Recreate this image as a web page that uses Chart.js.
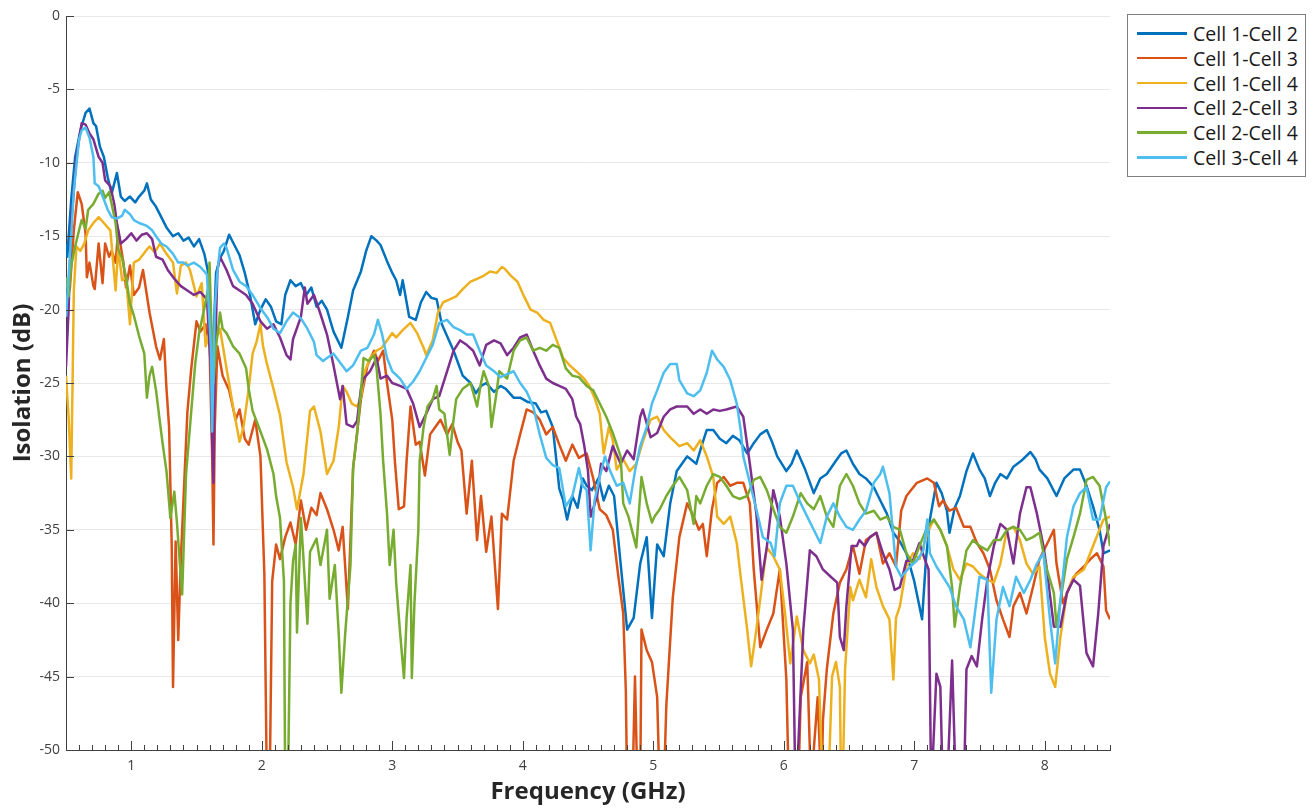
<!DOCTYPE html>
<html>
<head>
<meta charset="utf-8">
<title>Isolation vs Frequency</title>
<script src="https://cdn.jsdelivr.net/npm/chart.js@4.4.1/dist/chart.umd.min.js"></script>
<style>
  html, body { margin: 0; padding: 0; background: #fff; }
  #wrap { position: relative; width: 1313px; height: 808px; }
  #legend {
    position: absolute; left: 1127px; top: 14px; width: 179px; height: 163px;
    box-sizing: border-box; border: 1px solid #7f7f7f; background: #fff;
    padding-top: 6px; font-family: "Open Sans", sans-serif; font-size: 19.5px; color: #1a1a1a;
  }
  #legend ul { list-style: none; margin: 0; padding: 0; }
  #legend li { display: flex; align-items: center; height: 24.8px; white-space: nowrap; }
  #legend .swatch { display: block; width: 50px; height: 2.5px; margin-left: 9px; margin-right: 6px; }
</style>
</head>
<body>
<div id="wrap">
  <canvas id="isolation-chart" width="1313" height="808"></canvas>
  <div id="legend"><ul></ul></div>
</div>
<script>
// Series: [frequency GHz, isolation dB]
// (values below -50 mean the trace runs off the bottom of the axes)
const seriesNames = ['Cell 1-Cell 2', 'Cell 1-Cell 3', 'Cell 1-Cell 4', 'Cell 2-Cell 3', 'Cell 2-Cell 4', 'Cell 3-Cell 4'];
const seriesColors = ['#0072BD', '#D95319', '#EDB120', '#7E2F8E', '#77AC30', '#4DBEEE'];
const yTicks = [0, -5, -10, -15, -20, -25, -30, -35, -40, -45, -50];
const xTicks = [1, 2, 3, 4, 5, 6, 7, 8];

const cell12 = [[0.50,-15.5],[0.51,-16.4],[0.54,-12.5],[0.57,-9.6],[0.61,-7.8],[0.65,-6.6],[0.68,-6.3],[0.71,-7.3],[0.73,-7.5],[0.76,-8.9],[0.79,-9.6],[0.82,-11],[0.85,-12.1],[0.89,-10.7],[0.92,-12.3],[0.95,-12.6],[0.99,-12.3],[1.03,-12.7],[1.06,-12.3],[1.10,-11.9],[1.12,-11.4],[1.15,-12.5],[1.19,-13],[1.23,-13.7],[1.27,-14.4],[1.32,-15],[1.36,-14.8],[1.40,-15.3],[1.44,-15.1],[1.48,-15.7],[1.52,-15.2],[1.56,-16.2],[1.59,-17.5],[1.61,-22],[1.62,-28],[1.63,-22],[1.65,-17.5],[1.68,-16.5],[1.71,-16],[1.75,-14.9],[1.79,-15.6],[1.83,-16.3],[1.87,-17.5],[1.91,-19],[1.95,-21],[1.99,-20],[2.03,-19.3],[2.07,-19.8],[2.11,-20.8],[2.15,-21],[2.18,-19],[2.22,-18],[2.26,-18.4],[2.30,-18.2],[2.34,-19],[2.38,-18.5],[2.42,-19.8],[2.46,-19.4],[2.50,-20],[2.55,-21.5],[2.61,-22.6],[2.66,-20.5],[2.70,-18.7],[2.76,-17.4],[2.80,-16],[2.84,-15],[2.88,-15.3],[2.91,-15.6],[2.96,-16.7],[3.00,-17.5],[3.03,-18],[3.06,-19],[3.08,-18],[3.13,-20.5],[3.18,-20.7],[3.22,-19.5],[3.26,-18.8],[3.30,-19.2],[3.34,-19.3],[3.38,-21],[3.43,-22],[3.47,-22.8],[3.54,-24.5],[3.60,-25],[3.64,-25.7],[3.68,-25.2],[3.72,-25],[3.78,-25.6],[3.83,-25.2],[3.87,-25.4],[3.93,-26],[3.98,-26],[4.04,-26.3],[4.10,-26.4],[4.14,-27],[4.18,-26.9],[4.23,-28],[4.26,-30.5],[4.28,-32.2],[4.31,-33],[4.34,-34.3],[4.38,-32.7],[4.42,-33.5],[4.46,-31.5],[4.49,-32],[4.53,-32.3],[4.58,-31.5],[4.62,-33],[4.66,-32],[4.70,-32.7],[4.75,-37.3],[4.80,-41.8],[4.85,-41],[4.90,-37.3],[4.95,-35.5],[4.99,-41],[5.03,-36],[5.08,-36.8],[5.13,-33.2],[5.18,-31],[5.22,-30.5],[5.26,-30],[5.33,-30.5],[5.37,-29.3],[5.41,-28.2],[5.46,-28.2],[5.51,-28.8],[5.56,-29.1],[5.61,-28.6],[5.66,-28.9],[5.72,-29.8],[5.77,-29.1],[5.82,-28.5],[5.87,-28.2],[5.91,-29],[5.95,-30],[6.02,-31],[6.06,-30.5],[6.10,-29.6],[6.16,-30.8],[6.23,-32.5],[6.28,-31.5],[6.33,-31.2],[6.40,-30.3],[6.44,-29.8],[6.48,-29.6],[6.53,-30.5],[6.58,-31.2],[6.63,-31.5],[6.69,-32.1],[6.74,-33],[6.79,-33.9],[6.84,-35.2],[6.89,-35.8],[6.94,-36.6],[7.00,-38.5],[7.06,-41.1],[7.09,-37],[7.12,-34.3],[7.17,-31.8],[7.21,-32.5],[7.25,-33.7],[7.27,-35.2],[7.31,-33.5],[7.35,-32.7],[7.40,-31],[7.45,-29.8],[7.50,-30.9],[7.54,-31.5],[7.58,-32.7],[7.62,-31.8],[7.66,-31.2],[7.71,-31.5],[7.76,-30.7],[7.82,-30.3],[7.89,-29.7],[7.93,-30.2],[7.96,-30.9],[8.02,-31.5],[8.09,-32.7],[8.15,-31.5],[8.22,-30.9],[8.27,-30.9],[8.32,-32],[8.37,-33.4],[8.42,-35],[8.45,-36.6],[8.50,-36.4]];

const cell13 = [[0.50,-19.5],[0.53,-18.5],[0.56,-14.6],[0.59,-12],[0.62,-12.8],[0.65,-14.8],[0.66,-17.8],[0.68,-16.8],[0.71,-18.4],[0.72,-18.6],[0.75,-15.5],[0.78,-18.2],[0.80,-15.5],[0.83,-16.4],[0.85,-16],[0.88,-16.8],[0.90,-14.6],[0.94,-16.8],[0.96,-18.5],[0.99,-17],[1.02,-19],[1.06,-18.5],[1.09,-17.3],[1.14,-20.2],[1.19,-22.5],[1.22,-23.4],[1.25,-22],[1.27,-25.4],[1.29,-28],[1.31,-36],[1.32,-45.7],[1.34,-35.8],[1.36,-42.5],[1.38,-37],[1.40,-33],[1.43,-27],[1.46,-24],[1.50,-20.8],[1.53,-21.5],[1.57,-21],[1.60,-22.5],[1.62,-30],[1.63,-36],[1.64,-28],[1.66,-22.5],[1.70,-24.5],[1.75,-25.5],[1.80,-27.5],[1.83,-26.8],[1.87,-28.8],[1.90,-29.2],[1.95,-27.5],[1.99,-30],[2.02,-38],[2.04,-53],[2.06,-53],[2.08,-38.5],[2.11,-36],[2.14,-37],[2.18,-35.5],[2.22,-34.5],[2.26,-36],[2.30,-33],[2.34,-35],[2.38,-33.5],[2.42,-34],[2.45,-32.5],[2.50,-33.6],[2.55,-35],[2.59,-36.4],[2.62,-34.8],[2.66,-40.4],[2.70,-30.8],[2.76,-26.1],[2.81,-23.8],[2.86,-22.8],[2.89,-23.5],[2.93,-22.8],[2.96,-25],[3.00,-27.5],[3.02,-30.3],[3.05,-33.6],[3.09,-33.4],[3.11,-30.3],[3.14,-26.6],[3.18,-29.2],[3.21,-29],[3.25,-31.3],[3.29,-28.5],[3.33,-28],[3.37,-27.5],[3.42,-28.5],[3.46,-27.8],[3.50,-29],[3.53,-29.6],[3.57,-33.9],[3.61,-30.3],[3.65,-35.7],[3.68,-32.7],[3.72,-36.5],[3.76,-34.1],[3.81,-40.4],[3.84,-33.9],[3.88,-34.3],[3.93,-30.3],[3.98,-28.5],[4.03,-26.8],[4.08,-27],[4.13,-27.5],[4.18,-28.5],[4.23,-28],[4.28,-29.2],[4.33,-30.3],[4.38,-29.2],[4.43,-30.1],[4.49,-29.8],[4.54,-31.5],[4.59,-33.6],[4.64,-34],[4.69,-35],[4.73,-38],[4.77,-40.7],[4.79,-46],[4.80,-53],[4.84,-53],[4.86,-45],[4.88,-53],[4.90,-53],[4.91,-41.8],[4.95,-43.2],[4.99,-44],[5.03,-46.4],[5.05,-53],[5.08,-53],[5.10,-47],[5.12,-44],[5.15,-39.6],[5.20,-35.5],[5.26,-33.2],[5.31,-34.1],[5.35,-35],[5.38,-34.6],[5.41,-36.8],[5.45,-33.6],[5.49,-31.8],[5.54,-31.4],[5.59,-32],[5.64,-31.8],[5.69,-31.8],[5.74,-33.2],[5.77,-37.7],[5.82,-43],[5.87,-41.8],[5.92,-40.7],[5.97,-37.7],[6.02,-45.2],[6.04,-53],[6.11,-53],[6.13,-46.4],[6.18,-44],[6.21,-53],[6.23,-50],[6.26,-46.4],[6.29,-53],[6.30,-48],[6.33,-44.5],[6.38,-40.7],[6.43,-38.6],[6.48,-37.7],[6.53,-36.1],[6.58,-38],[6.63,-35.7],[6.71,-35.2],[6.76,-37.3],[6.81,-36.6],[6.86,-37.5],[6.90,-33.7],[6.94,-32.7],[7.02,-31.8],[7.10,-31.5],[7.15,-31.8],[7.19,-33.4],[7.22,-33],[7.27,-33.7],[7.32,-33.5],[7.38,-34.8],[7.43,-34.8],[7.48,-35.9],[7.53,-36.6],[7.58,-37.7],[7.63,-39.8],[7.68,-41.1],[7.73,-42.3],[7.76,-40.2],[7.81,-39.3],[7.86,-40.7],[7.91,-38.9],[7.96,-37],[8.01,-36.1],[8.07,-35],[8.09,-37.3],[8.14,-40],[8.19,-38.9],[8.24,-38],[8.30,-37.5],[8.35,-37],[8.40,-36.6],[8.45,-37.5],[8.47,-40.5],[8.50,-41.1]];

const cell14 = [[0.50,-24.5],[0.52,-27.3],[0.54,-31.5],[0.56,-18.7],[0.58,-15.7],[0.61,-16],[0.64,-15.5],[0.67,-14.6],[0.71,-14.1],[0.75,-13.7],[0.79,-14.1],[0.84,-14.6],[0.88,-18.7],[0.90,-15.8],[0.93,-18],[0.96,-17.8],[0.99,-21],[1.02,-16.8],[1.06,-16.6],[1.12,-15.9],[1.14,-15.7],[1.18,-16.1],[1.22,-15.5],[1.27,-16.2],[1.32,-16.8],[1.35,-18.9],[1.38,-17],[1.42,-16.8],[1.45,-17.3],[1.50,-19.1],[1.54,-18.2],[1.57,-22.5],[1.60,-21.5],[1.62,-25],[1.65,-22],[1.68,-21.3],[1.73,-24],[1.78,-26.6],[1.83,-29],[1.86,-28],[1.90,-25.4],[1.93,-23],[1.96,-22.2],[1.99,-21],[2.01,-22.5],[2.04,-23.7],[2.09,-25.4],[2.14,-27.2],[2.19,-30.4],[2.24,-32.1],[2.27,-33.6],[2.32,-31.2],[2.37,-26.9],[2.40,-26.6],[2.45,-28.3],[2.50,-31.2],[2.55,-30.3],[2.59,-28],[2.62,-25.2],[2.65,-25.6],[2.69,-26.4],[2.73,-26.6],[2.76,-26],[2.79,-24.2],[2.83,-23.3],[2.88,-22.8],[2.92,-22.6],[2.96,-22.1],[3.00,-21.6],[3.03,-21.9],[3.08,-21.4],[3.14,-20.9],[3.19,-21.6],[3.24,-22.6],[3.26,-23.1],[3.31,-22.1],[3.35,-20.2],[3.39,-19.5],[3.44,-19.3],[3.49,-19.1],[3.54,-18.6],[3.60,-18.1],[3.65,-17.9],[3.70,-17.7],[3.75,-17.4],[3.80,-17.5],[3.84,-17.1],[3.86,-17.2],[3.91,-17.7],[3.96,-18.1],[4.01,-19.1],[4.06,-20],[4.11,-20.2],[4.16,-20.7],[4.21,-20.9],[4.26,-22.1],[4.31,-23.3],[4.36,-23.8],[4.41,-24.2],[4.47,-24.7],[4.51,-25.2],[4.55,-26],[4.59,-27.1],[4.62,-29.8],[4.66,-28],[4.69,-28.9],[4.72,-30.9],[4.77,-30.2],[4.82,-31],[4.87,-30.5],[4.92,-29],[4.98,-27.5],[5.03,-27.3],[5.08,-28.2],[5.13,-28.7],[5.20,-29.3],[5.26,-29.1],[5.31,-29.6],[5.36,-28.9],[5.41,-30],[5.46,-31.4],[5.49,-34.1],[5.54,-34.6],[5.59,-34.1],[5.64,-35.9],[5.67,-38.2],[5.72,-41.8],[5.75,-44.3],[5.79,-41.8],[5.87,-36.2],[5.92,-36.8],[5.97,-37.7],[6.01,-40.7],[6.05,-44.1],[6.10,-40.9],[6.15,-43.2],[6.20,-44.1],[6.23,-43.5],[6.27,-45.2],[6.30,-53],[6.34,-53],[6.37,-45],[6.40,-44],[6.43,-45.7],[6.44,-53],[6.45,-53],[6.47,-44.5],[6.51,-38.9],[6.53,-39.8],[6.58,-38.4],[6.63,-39.6],[6.67,-37],[6.71,-38.9],[6.76,-40.2],[6.81,-41.1],[6.84,-45.2],[6.86,-41],[6.89,-40.2],[6.94,-37.5],[6.99,-36.6],[7.04,-37],[7.10,-35.2],[7.15,-34.3],[7.20,-35],[7.25,-36.1],[7.30,-37.7],[7.35,-38.4],[7.40,-37.3],[7.45,-37.5],[7.50,-38],[7.56,-38.4],[7.61,-38.6],[7.66,-37.3],[7.71,-35],[7.76,-34.8],[7.81,-35.7],[7.86,-37.3],[7.91,-38],[7.96,-37.5],[8.00,-42.3],[8.04,-44.8],[8.08,-45.7],[8.12,-42.3],[8.17,-39.3],[8.22,-38.2],[8.30,-37.7],[8.37,-36.1],[8.45,-34.3],[8.50,-34.1]];

const cell23 = [[0.50,-23.9],[0.52,-20],[0.54,-14.1],[0.58,-9.6],[0.62,-7.3],[0.65,-7.4],[0.68,-8],[0.71,-8.4],[0.75,-9.6],[0.78,-10],[0.80,-11.2],[0.84,-11.6],[0.87,-12.8],[0.89,-14.1],[0.92,-15.5],[0.96,-15.2],[1.00,-14.8],[1.04,-15.3],[1.08,-14.9],[1.12,-14.8],[1.16,-15.2],[1.19,-16.4],[1.24,-16.6],[1.28,-17.3],[1.33,-17.9],[1.38,-18.4],[1.43,-18.7],[1.48,-19],[1.53,-18.8],[1.58,-19.3],[1.61,-24],[1.62,-28.9],[1.63,-31.8],[1.64,-24],[1.66,-17.3],[1.68,-16.4],[1.73,-17.3],[1.78,-18.4],[1.83,-18.7],[1.88,-19],[1.93,-19.6],[1.99,-20.8],[2.04,-21.3],[2.09,-21],[2.14,-21.9],[2.19,-23.1],[2.22,-23.4],[2.24,-22],[2.30,-20.5],[2.33,-18.5],[2.35,-19.6],[2.40,-19],[2.45,-20.3],[2.50,-21.7],[2.55,-23.8],[2.60,-26.1],[2.62,-25.2],[2.65,-27.8],[2.70,-28],[2.73,-27.6],[2.76,-25.4],[2.78,-24.7],[2.83,-24.2],[2.88,-23.3],[2.91,-24.7],[2.96,-24.5],[3.00,-25],[3.06,-25.2],[3.11,-25.4],[3.16,-26.4],[3.21,-28],[3.26,-27.1],[3.31,-26.1],[3.36,-25.9],[3.42,-24.2],[3.47,-22.8],[3.52,-22.1],[3.57,-22.4],[3.62,-22.8],[3.67,-23.8],[3.72,-22.4],[3.78,-22.1],[3.83,-22.3],[3.88,-23.1],[3.93,-22.6],[3.98,-21.9],[4.03,-21.7],[4.08,-22.8],[4.13,-23.8],[4.18,-24.7],[4.23,-25],[4.28,-25.2],[4.33,-25.4],[4.38,-26.1],[4.41,-27.3],[4.44,-27.8],[4.47,-29.2],[4.50,-31],[4.52,-34.1],[4.57,-32.7],[4.60,-30.5],[4.64,-31],[4.69,-29.3],[4.75,-30.5],[4.80,-29.6],[4.85,-30.2],[4.90,-27.3],[4.92,-26.8],[4.98,-28.7],[5.03,-28.4],[5.08,-27.3],[5.13,-26.8],[5.18,-26.6],[5.26,-26.6],[5.31,-27.1],[5.36,-26.8],[5.41,-27.1],[5.46,-26.8],[5.51,-26.9],[5.56,-26.8],[5.64,-26.6],[5.69,-27.3],[5.74,-30.5],[5.79,-33.9],[5.83,-38.4],[5.87,-36.2],[5.92,-32.3],[5.97,-34.1],[6.02,-37.3],[6.07,-41.8],[6.09,-53],[6.11,-50],[6.15,-41.8],[6.20,-36.4],[6.25,-36.8],[6.30,-37.7],[6.36,-38.2],[6.41,-38.6],[6.43,-42.3],[6.46,-43.2],[6.48,-40.2],[6.52,-36.1],[6.56,-36.1],[6.58,-35.7],[6.62,-36.1],[6.66,-35.5],[6.71,-35.2],[6.76,-36.6],[6.81,-37.7],[6.85,-39.1],[6.89,-38.9],[6.94,-37.1],[6.99,-37.1],[7.04,-35.9],[7.08,-37],[7.11,-37.7],[7.13,-53],[7.17,-44.8],[7.20,-45.7],[7.22,-53],[7.25,-53],[7.29,-43.9],[7.32,-53],[7.38,-53],[7.40,-44.5],[7.44,-43.6],[7.48,-44.3],[7.52,-41.1],[7.56,-38.4],[7.61,-36.1],[7.66,-34.6],[7.71,-35],[7.76,-37.3],[7.81,-33.9],[7.86,-32.1],[7.89,-32.1],[7.94,-33.9],[7.99,-36.1],[8.01,-37.3],[8.07,-41.6],[8.12,-41.6],[8.17,-39.3],[8.22,-38.4],[8.27,-38.8],[8.32,-43.4],[8.37,-44.3],[8.41,-40.7],[8.45,-36.1],[8.50,-34.6]];

const cell24 = [[0.50,-17.8],[0.52,-19.1],[0.54,-17],[0.57,-15.7],[0.60,-14.6],[0.62,-13.9],[0.65,-14.5],[0.67,-13.2],[0.71,-12.8],[0.75,-12.1],[0.78,-11.9],[0.80,-12.4],[0.83,-12],[0.85,-12.8],[0.88,-14.1],[0.90,-15.9],[0.93,-16.5],[0.96,-17.8],[0.99,-19.6],[1.02,-20.4],[1.06,-21.8],[1.10,-23],[1.12,-26],[1.14,-24.5],[1.16,-23.9],[1.19,-25.5],[1.22,-27.7],[1.24,-29.1],[1.27,-31],[1.30,-34.2],[1.33,-32.4],[1.35,-34.5],[1.37,-37],[1.39,-39.4],[1.42,-31.2],[1.46,-26.9],[1.49,-23.7],[1.52,-21.6],[1.56,-19.9],[1.59,-18.5],[1.60,-16.8],[1.61,-20],[1.63,-25],[1.65,-22.5],[1.68,-20.2],[1.70,-21.3],[1.73,-21.6],[1.78,-22.5],[1.83,-23],[1.88,-24],[1.90,-25.4],[1.93,-26.9],[1.99,-28.3],[2.04,-29.5],[2.09,-31.2],[2.11,-32.7],[2.14,-34.2],[2.17,-38.5],[2.18,-53],[2.20,-53],[2.22,-40],[2.24,-37.1],[2.26,-36],[2.27,-42],[2.30,-34.2],[2.32,-37],[2.35,-41.4],[2.37,-36.5],[2.42,-35.6],[2.45,-37.4],[2.50,-35],[2.52,-39.7],[2.56,-37.4],[2.59,-42.1],[2.61,-46.1],[2.64,-42],[2.68,-37.4],[2.70,-30.8],[2.73,-28.5],[2.76,-25.6],[2.78,-23.3],[2.82,-23.5],[2.86,-23.1],[2.88,-24],[2.91,-27.1],[2.93,-30.3],[2.96,-33.9],[2.98,-37.4],[3.01,-35],[3.03,-38.6],[3.06,-42],[3.09,-45.1],[3.11,-41],[3.14,-37.4],[3.15,-45.1],[3.17,-40],[3.20,-35],[3.21,-30.3],[3.24,-28],[3.27,-26.6],[3.31,-26.1],[3.34,-25.2],[3.36,-26.8],[3.40,-27.1],[3.44,-29.9],[3.47,-27.5],[3.49,-26.1],[3.54,-25.4],[3.60,-25],[3.65,-26.6],[3.68,-25],[3.70,-24.2],[3.74,-25.2],[3.76,-28],[3.80,-25.6],[3.82,-24.2],[3.88,-24.7],[3.93,-22.8],[3.98,-22.1],[4.03,-21.9],[4.08,-22.8],[4.13,-22.6],[4.18,-22.8],[4.23,-22.4],[4.28,-22.6],[4.33,-24],[4.38,-24.5],[4.43,-24.6],[4.49,-25.2],[4.54,-25.5],[4.59,-26.4],[4.64,-27.3],[4.69,-28.4],[4.75,-30],[4.77,-33.2],[4.81,-34.1],[4.85,-35.5],[4.87,-36.2],[4.91,-31.4],[4.95,-33.2],[4.99,-34.5],[5.01,-34.1],[5.05,-33.6],[5.10,-32.7],[5.15,-32],[5.20,-31.4],[5.26,-32.3],[5.31,-34.6],[5.33,-32.7],[5.36,-33.2],[5.41,-32],[5.46,-31.2],[5.51,-31.4],[5.56,-32],[5.61,-32.7],[5.66,-32.9],[5.72,-32.7],[5.77,-31.6],[5.82,-31.4],[5.87,-32.3],[5.92,-33.6],[5.97,-34.8],[6.02,-35.2],[6.07,-34.1],[6.13,-32.5],[6.18,-33.2],[6.23,-33.6],[6.28,-32.7],[6.33,-34.1],[6.38,-34.8],[6.43,-32],[6.48,-31.2],[6.53,-32],[6.58,-33.2],[6.63,-33.9],[6.69,-33.7],[6.74,-34.3],[6.79,-34.1],[6.84,-34.8],[6.89,-35],[6.94,-36.6],[6.99,-37.3],[7.04,-36.1],[7.10,-34.8],[7.15,-34.3],[7.20,-35],[7.25,-36.1],[7.29,-38.9],[7.31,-41.6],[7.35,-38.9],[7.40,-36.4],[7.45,-35.7],[7.50,-36.1],[7.56,-36.4],[7.61,-35.7],[7.66,-35.7],[7.71,-35],[7.76,-34.8],[7.81,-35],[7.86,-35.7],[7.91,-35.5],[7.96,-35.2],[8.01,-37.5],[8.07,-39.3],[8.09,-41.6],[8.13,-39.3],[8.17,-37],[8.22,-35.5],[8.27,-33.9],[8.32,-31.6],[8.37,-31.4],[8.42,-32],[8.47,-34.3],[8.50,-36.1]];

const cell34 = [[0.50,-20.5],[0.53,-16.4],[0.56,-11.9],[0.60,-8.4],[0.62,-7.8],[0.65,-7.6],[0.68,-8.3],[0.71,-9.6],[0.72,-11.4],[0.75,-11.6],[0.79,-12.5],[0.82,-13.2],[0.85,-13.7],[0.89,-13.8],[0.93,-13.6],[0.95,-13.2],[0.99,-13.5],[1.02,-13.9],[1.06,-14.1],[1.12,-14.3],[1.16,-14.6],[1.19,-15],[1.23,-15.5],[1.27,-15.7],[1.32,-16.2],[1.36,-16.8],[1.40,-16.8],[1.43,-17],[1.48,-16.8],[1.53,-17.1],[1.58,-17.6],[1.61,-22.5],[1.62,-28.3],[1.64,-20],[1.66,-17.5],[1.68,-15.8],[1.71,-15.5],[1.73,-15.8],[1.78,-17.3],[1.83,-18.1],[1.88,-18.4],[1.93,-19],[1.99,-19.9],[2.04,-20.5],[2.09,-21.3],[2.14,-21.6],[2.19,-20.8],[2.24,-20.2],[2.30,-20.6],[2.35,-21.3],[2.40,-22.2],[2.42,-23.1],[2.47,-23.5],[2.50,-23.3],[2.55,-23],[2.60,-23.6],[2.65,-24.2],[2.70,-23.8],[2.76,-22.8],[2.81,-22.6],[2.86,-21.7],[2.89,-20.7],[2.92,-21.6],[2.96,-23.3],[3.00,-24.2],[3.06,-24.7],[3.11,-25.4],[3.16,-24.9],[3.21,-24.2],[3.26,-23.3],[3.31,-22.4],[3.36,-20.9],[3.42,-20.7],[3.47,-21.2],[3.52,-21.4],[3.57,-21.7],[3.62,-21.7],[3.67,-22.8],[3.72,-23.8],[3.78,-24.2],[3.83,-24.6],[3.88,-24.4],[3.93,-24.2],[3.98,-25],[4.03,-25.6],[4.08,-26.6],[4.13,-28.5],[4.18,-30.1],[4.23,-30.6],[4.28,-30.8],[4.33,-33.4],[4.38,-32.7],[4.43,-30.8],[4.46,-32],[4.49,-32.3],[4.52,-36.4],[4.55,-33],[4.59,-31.4],[4.63,-30],[4.67,-31],[4.72,-32],[4.77,-31.8],[4.82,-33.2],[4.86,-31],[4.90,-29.3],[4.95,-28],[4.99,-26.4],[5.03,-25.5],[5.08,-24.3],[5.13,-23.7],[5.18,-23.7],[5.20,-24.8],[5.26,-25.7],[5.31,-25.9],[5.36,-25.5],[5.41,-24.3],[5.45,-22.8],[5.49,-23.4],[5.54,-23.9],[5.59,-24.8],[5.64,-26.4],[5.67,-28.2],[5.69,-30],[5.74,-31.8],[5.79,-33.6],[5.84,-35.5],[5.90,-35.9],[5.93,-36.8],[5.97,-33.2],[6.02,-32],[6.07,-32],[6.13,-33.2],[6.18,-34.1],[6.23,-35],[6.28,-35.9],[6.33,-34.1],[6.38,-33.2],[6.43,-34.1],[6.48,-34.8],[6.53,-35],[6.58,-34.3],[6.63,-33.7],[6.69,-31.8],[6.74,-31.2],[6.76,-30.7],[6.81,-32.5],[6.86,-37.5],[6.90,-38.2],[6.97,-37.5],[7.02,-37.1],[7.07,-36.4],[7.10,-34.3],[7.12,-36.6],[7.17,-37.5],[7.22,-38.2],[7.27,-38.9],[7.32,-40.2],[7.38,-41.1],[7.43,-43],[7.46,-41],[7.50,-38.2],[7.56,-38.4],[7.59,-46.1],[7.63,-41.1],[7.68,-38.9],[7.73,-40.2],[7.78,-38.2],[7.84,-39.3],[7.89,-38.4],[7.94,-37.3],[7.99,-36.6],[8.04,-41.1],[8.08,-44.1],[8.12,-39.8],[8.17,-35.5],[8.22,-33.4],[8.27,-32.5],[8.32,-32.1],[8.37,-34.3],[8.42,-34.3],[8.47,-32.1],[8.50,-31.7]];

const seriesData = [cell12, cell13, cell14, cell23, cell24, cell34];

const axisColor = '#404040';
const tickFont = { family: '"Open Sans", sans-serif', size: 14 };
const titleFont = { family: '"Open Sans", sans-serif', size: 24, weight: 'bold' };

// MATLAB-style inward tick marks (minor ticks every 0.1 GHz on x)
const inwardTicks = {
  id: 'inwardTicks',
  afterDraw(c) {
    const { ctx, chartArea: area, scales: { x, y } } = c;
    ctx.save();
    ctx.strokeStyle = axisColor;
    ctx.lineWidth = 1;
    ctx.beginPath();
    yTicks.forEach((v) => {
      const py = Math.round(y.getPixelForValue(v)) + 0.5;
      ctx.moveTo(area.left, py);
      ctx.lineTo(area.left + 8, py);
    });
    for (let k = 5; k <= 85; k++) {
      const v = k / 10;
      const px = Math.round(x.getPixelForValue(v)) + 0.5;
      const len = k % 10 === 0 ? 9 : 5;
      ctx.moveTo(px, area.bottom);
      ctx.lineTo(px, area.bottom - len);
    }
    ctx.stroke();
    ctx.restore();
  },
};

const ctx = document.getElementById('isolation-chart');
const chart = new Chart(ctx, {
  type: 'line',
  data: {
    datasets: seriesNames.map((name, i) => ({
      label: name,
      data: seriesData[i].map(([f, v]) => ({ x: f, y: v })),
      borderColor: seriesColors[i],
      backgroundColor: seriesColors[i],
      borderWidth: 2.5,
      borderJoinStyle: 'round',
      pointRadius: 0,
      tension: 0,
      fill: false,
      order: seriesNames.length - i,
    })),
  },
  options: {
    responsive: false,
    animation: false,
    events: [],
    layout: { padding: { left: 0, right: 203, top: 16, bottom: 0 } },
    plugins: {
      legend: { display: false },
      tooltip: { enabled: false },
    },
    scales: {
      x: {
        type: 'linear',
        min: 0.5,
        max: 8.5,
        afterFit(s) { s.height = 58; },
        afterBuildTicks(s) { s.ticks = xTicks.map((v) => ({ value: v })); },
        ticks: { font: tickFont, color: axisColor, padding: 8, maxRotation: 0 },
        grid: { display: false, drawTicks: false },
        border: { display: true, color: axisColor, width: 1 },
        title: { display: true, text: 'Frequency (GHz)', font: titleFont, color: '#262626', padding: { top: 0, bottom: 1 } },
      },
      y: {
        type: 'linear',
        min: -50,
        max: 0,
        afterFit(s) { s.width = 66; },
        afterBuildTicks(s) { s.ticks = yTicks.map((v) => ({ value: v })); },
        ticks: { font: tickFont, color: axisColor, padding: 6 },
        grid: { color: '#e8e8e8', lineWidth: 1, drawTicks: false },
        border: { display: true, color: axisColor, width: 1 },
        title: { display: true, text: 'Isolation (dB)', font: titleFont, color: '#262626', padding: { top: 9, bottom: 0 } },
      },
    },
  },
  plugins: [inwardTicks],
});

// HTML legend built from the datasets
const ul = document.querySelector('#legend ul');
chart.data.datasets.forEach((ds) => {
  const li = document.createElement('li');
  const sw = document.createElement('span');
  sw.className = 'swatch';
  sw.style.background = ds.borderColor;
  const label = document.createElement('span');
  label.textContent = ds.label;
  li.appendChild(sw);
  li.appendChild(label);
  ul.appendChild(li);
});
</script>
</body>
</html>
